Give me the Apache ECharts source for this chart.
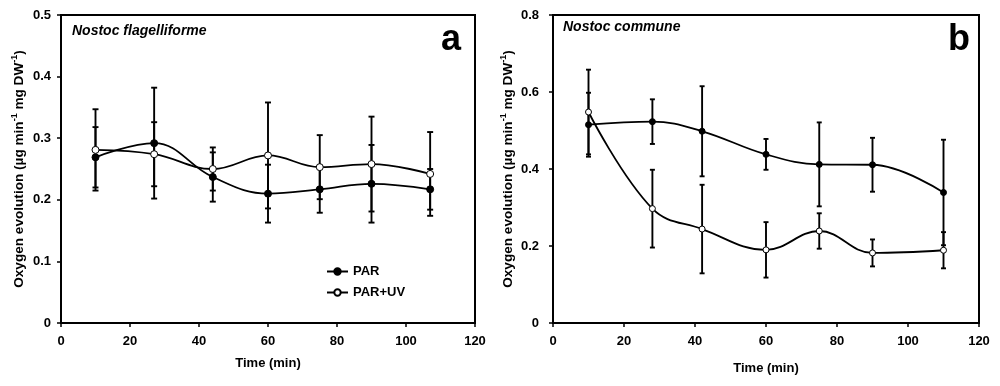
<!DOCTYPE html>
<html>
<head>
<meta charset="utf-8">
<script src="https://cdn.jsdelivr.net/npm/echarts@6/dist/echarts.min.js"></script>
<style>
html,body{margin:0;padding:0;background:#fff;}
#chart{width:1000px;height:386px;}
</style>
</head>
<body>
<div id="chart"></div>
<script>
// ---- Data ----
const xTicks = [0, 20, 40, 60, 80, 100, 120];
const yTicksA = [0, 0.1, 0.2, 0.3, 0.4, 0.5];
const yTicksB = [0, 0.2, 0.4, 0.6, 0.8];

// Panel a: Nostoc flagelliforme
const timesA = [10, 27, 44, 60, 75, 90, 107];
const parA = [0.269, 0.292, 0.237, 0.210, 0.217, 0.226, 0.217];
const parErrA = [0.049, 0.090, 0.040, 0.047, 0.038, 0.063, 0.033];
const uvA = [0.281, 0.274, 0.250, 0.272, 0.253, 0.258, 0.242];
const uvErrA = [0.066, 0.052, 0.035, 0.086, 0.052, 0.077, 0.068];

// Panel b: Nostoc commune
const timesB = [10, 28, 42, 60, 75, 90, 110];
const parB = [0.515, 0.523, 0.498, 0.438, 0.412, 0.411, 0.339];
const parErrB = [0.083, 0.058, 0.117, 0.040, 0.109, 0.070, 0.137];
const uvB = [0.548, 0.297, 0.244, 0.190, 0.239, 0.182, 0.189];
const uvErrB = [0.110, 0.101, 0.115, 0.072, 0.046, 0.035, 0.047];

const seriesNames = ['PAR', 'PAR+UV'];
const panelTitles = ['Nostoc flagelliforme', 'Nostoc commune'];
const panelLetters = ['a', 'b'];
const xName = 'Time (min)';

// ---- Helpers ----
const FONT = "'Liberation Sans', Arial, Helvetica, sans-serif";
function pts(t, v) { return t.map((x, i) => [x, v[i]]); }
function errs(t, v, e) { return t.map((x, i) => [x, v[i] - e[i], v[i] + e[i]]); }
function errRender(capW) {
  return function (params, api) {
    const x = api.value(0), lo = api.value(1), hi = api.value(2);
    const pH = api.coord([x, hi]), pL = api.coord([x, lo]);
    const st = { stroke: '#000', lineWidth: 1.9 };
    return {
      type: 'group',
      children: [
        { type: 'line', shape: { x1: pH[0], y1: pH[1], x2: pL[0], y2: pL[1] }, style: st },
        { type: 'line', shape: { x1: pH[0] - capW, y1: pH[1], x2: pH[0] + capW, y2: pH[1] }, style: st },
        { type: 'line', shape: { x1: pL[0] - capW, y1: pL[1], x2: pL[0] + capW, y2: pL[1] }, style: st }
      ]
    };
  };
}
function yLabelFmt(v) { return v === 0 ? '0' : v.toFixed(1); }

const axisCommon = {
  axisLine: { show: true, lineStyle: { color: '#000', width: 2 } },
  axisTick: { show: true, inside: false, length: 4, lineStyle: { color: '#000', width: 1.5 } },
  splitLine: { show: false },
  nameTextStyle: { color: '#000', fontFamily: FONT, fontWeight: 'bold', fontSize: 13 }
};
const yName = 'Oxygen evolution (µg min{sup|-1} mg DW{sup|-1})';
const yNameStyle = {
  color: '#000', fontFamily: FONT, fontWeight: 'bold', fontSize: 13.6, lineHeight: 18,
  rich: {
    sup: { fontSize: 9, fontWeight: 'bold', fontFamily: FONT, color: '#000', verticalAlign: 'top', lineHeight: 10 }
  }
};

const option = {
  animation: false,
  backgroundColor: '#fff',
  textStyle: { fontFamily: FONT },
  grid: [
    { left: 61, width: 414, top: 15, bottom: 63, show: true, borderColor: '#000', borderWidth: 2, backgroundColor: 'transparent' },
    { left: 553, width: 426, top: 15, bottom: 63, show: true, borderColor: '#000', borderWidth: 2, backgroundColor: 'transparent' }
  ],
  xAxis: [0, 1].map(g => Object.assign({}, axisCommon, {
    type: 'value', gridIndex: g, min: xTicks[0], max: xTicks[xTicks.length - 1], interval: xTicks[1] - xTicks[0],
    name: xName, nameLocation: 'middle', nameGap: g === 0 ? 34 : 39,
    axisLabel: { color: '#000', fontFamily: FONT, fontWeight: 'bold', fontSize: 13, margin: 12 }
  })),
  yAxis: [
    Object.assign({}, axisCommon, {
      type: 'value', gridIndex: 0, min: yTicksA[0], max: yTicksA[yTicksA.length - 1], interval: yTicksA[1] - yTicksA[0],
      name: yName, nameLocation: 'middle', nameGap: 33, nameTextStyle: yNameStyle,
      axisLabel: { color: '#000', fontFamily: FONT, fontWeight: 'bold', fontSize: 13, margin: 10, formatter: yLabelFmt }
    }),
    Object.assign({}, axisCommon, {
      type: 'value', gridIndex: 1, min: yTicksB[0], max: yTicksB[yTicksB.length - 1], interval: yTicksB[1] - yTicksB[0],
      name: yName, nameLocation: 'middle', nameGap: 35, nameTextStyle: yNameStyle,
      axisLabel: { color: '#000', fontFamily: FONT, fontWeight: 'bold', fontSize: 13, margin: 14, formatter: yLabelFmt }
    })
  ],
  legend: {
    data: seriesNames,
    orient: 'vertical',
    left: 326, top: 265, padding: 0,
    itemWidth: 21, itemHeight: 8, itemGap: 8,
    textStyle: { color: '#000', fontFamily: FONT, fontWeight: 'bold', fontSize: 13 },
    selectedMode: false
  },
  graphic: [
    { type: 'text', left: 72, top: 24, style: { text: panelTitles[0], font: 'italic bold 14px ' + FONT, fill: '#000' } },
    { type: 'text', left: 563, top: 20, style: { text: panelTitles[1], font: 'italic bold 14px ' + FONT, fill: '#000' } },
    { type: 'text', left: 441, top: 22, style: { text: panelLetters[0], font: 'bold 36px ' + FONT, fill: '#000' } },
    { type: 'text', left: 948, top: 22, style: { text: panelLetters[1], font: 'bold 36px ' + FONT, fill: '#000' } }
  ],
  series: [
    // error bars (under the lines/markers)
    { type: 'custom', name: 'errParA', xAxisIndex: 0, yAxisIndex: 0, renderItem: errRender(3), data: errs(timesA, parA, parErrA), z: 1 },
    { type: 'custom', name: 'errUvA', xAxisIndex: 0, yAxisIndex: 0, renderItem: errRender(3), data: errs(timesA, uvA, uvErrA), z: 1 },
    { type: 'custom', name: 'errParB', xAxisIndex: 1, yAxisIndex: 1, renderItem: errRender(2.5), data: errs(timesB, parB, parErrB), z: 1 },
    { type: 'custom', name: 'errUvB', xAxisIndex: 1, yAxisIndex: 1, renderItem: errRender(2.5), data: errs(timesB, uvB, uvErrB), z: 1 },
    // lines
    { type: 'line', name: seriesNames[0], xAxisIndex: 0, yAxisIndex: 0, data: pts(timesA, parA), smooth: 0.4,
      symbol: 'circle', symbolSize: 7, lineStyle: { color: '#000', width: 1.8 },
      itemStyle: { color: '#000', borderColor: '#000', borderWidth: 1 }, z: 3 },
    { type: 'line', name: seriesNames[1], xAxisIndex: 0, yAxisIndex: 0, data: pts(timesA, uvA), smooth: 0.4,
      symbol: 'circle', symbolSize: 7, lineStyle: { color: '#000', width: 1.8 },
      itemStyle: { color: '#fff', borderColor: '#000', borderWidth: 1 }, z: 3 },
    { type: 'line', name: seriesNames[0], xAxisIndex: 1, yAxisIndex: 1, data: pts(timesB, parB), smooth: 0.4,
      symbol: 'circle', symbolSize: 6, lineStyle: { color: '#000', width: 1.8 },
      itemStyle: { color: '#000', borderColor: '#000', borderWidth: 1 }, z: 3 },
    { type: 'line', name: seriesNames[1], xAxisIndex: 1, yAxisIndex: 1, data: pts(timesB, uvB), smooth: 0.4,
      symbol: 'circle', symbolSize: 6, lineStyle: { color: '#000', width: 1.8 },
      itemStyle: { color: '#fff', borderColor: '#000', borderWidth: 1 }, z: 3 }
  ]
};

const chart = echarts.init(document.getElementById('chart'), null, { renderer: 'canvas' });
chart.setOption(option);
</script>
</body>
</html>
